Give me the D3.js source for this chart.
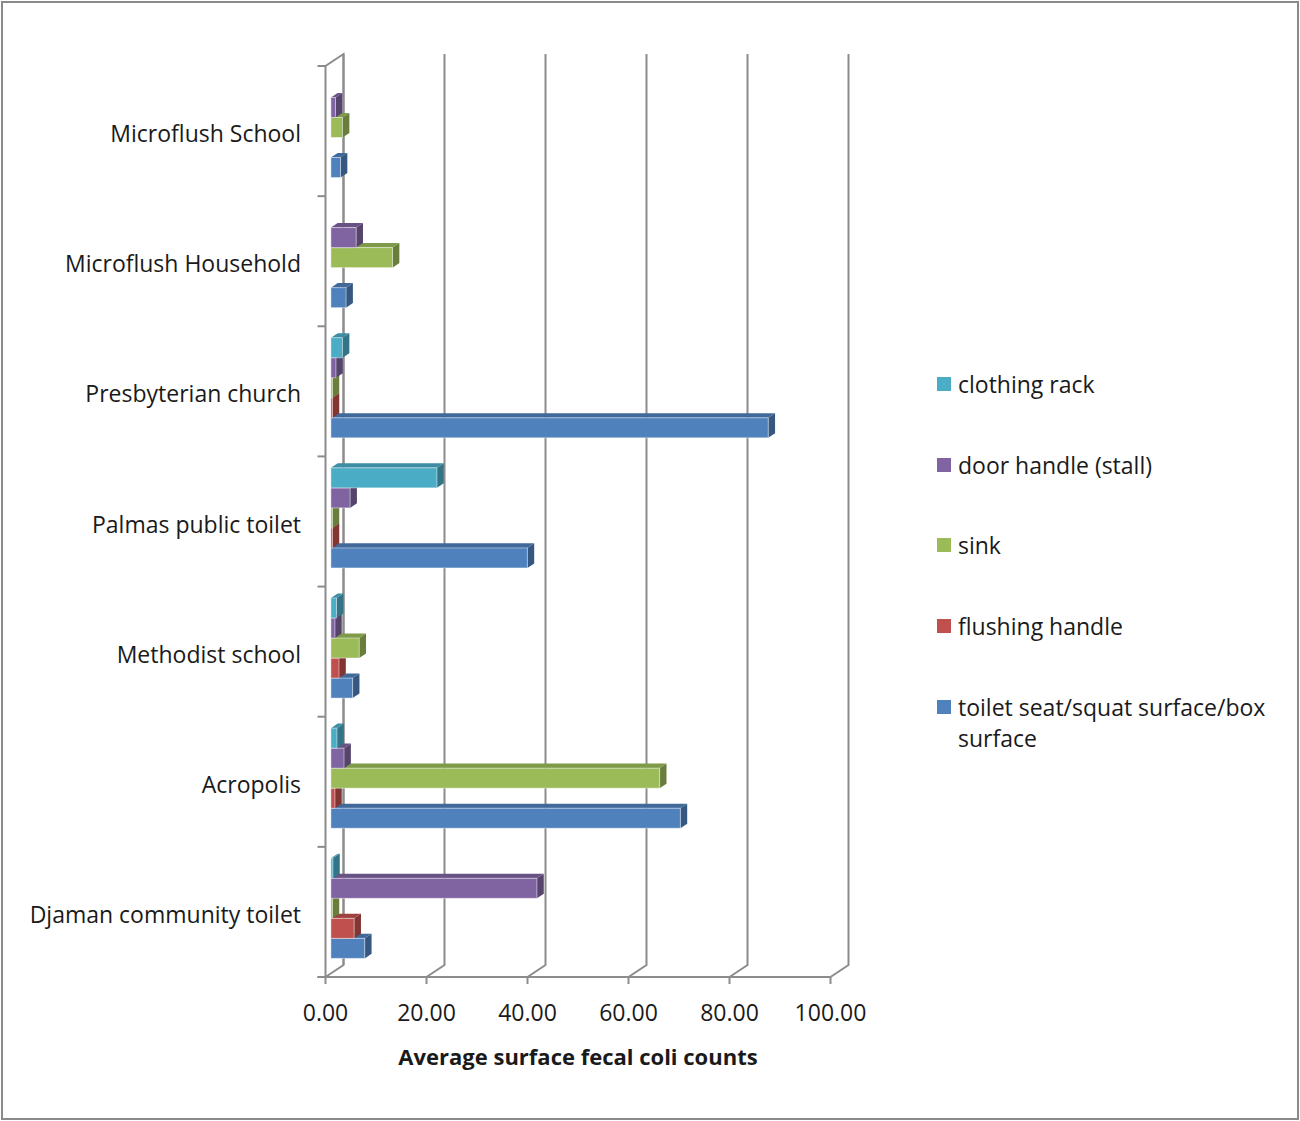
<!DOCTYPE html>
<html>
<head>
<meta charset="utf-8">
<script src="https://cdn.jsdelivr.net/npm/d3@7"></script>
<style>
  html, body { margin: 0; padding: 0; background: #fff; }
  svg text { font-family: "Open Sans", Lato, sans-serif; fill: #1a1a1a; }
</style>
</head>
<body>
<svg id="chart" width="1300" height="1121"></svg>
<script>
// ---------- data ----------
const categories = ["Microflush School", "Microflush Household", "Presbyterian church",
  "Palmas public toilet", "Methodist school", "Acropolis", "Djaman community toilet"];
const seriesNames = ["clothing rack", "door handle (stall)", "sink", "flushing handle",
  "toilet seat/squat surface/box surface"];
const clothingRack   = [0,   0,    2.3,  21.0, 1.1, 1.2,  0.4];
const doorHandle     = [0.9, 5.0,  1.0,  3.8,  0.8, 2.6,  40.8];
const sink           = [2.3, 12.2, 0.3,  0.3,  5.6, 65.1, 0.3];
const flushingHandle = [0,   0,    0.3,  0.3,  1.6, 0.8,  4.6];
const toiletSeat     = [1.9, 3.0,  86.6, 38.9, 4.3, 69.2, 6.7];
const seriesValues = [clothingRack, doorHandle, sink, flushingHandle, toiletSeat];
const seriesColors = ["#4bacc6", "#8064a2", "#9bbb59", "#c0504d", "#4f81bd"];
const xTicks = [0, 20, 40, 60, 80, 100];
const xTitle = "Average surface fecal coli counts";

// ---------- layout ----------
const svg = d3.select("#chart");
const FONT = 23;
const DX = 18, DY = 12;            // depth projection (back wall offset)
const dFront = 0.30, dBack = 0.68; // bar depth range

const x = d3.scaleLinear().domain([0, 100]).range([325.5, 830.5]);
const y = d3.scaleBand().domain(categories).range([66, 977]).padding(0);
const ys = d3.scaleBand().domain(seriesNames).range([0, y.bandwidth()])
  .paddingInner(0).paddingOuter(0.75);

const gridColor = "#8c8c8c";

// outer border
svg.append("rect").attr("x", 2).attr("y", 2).attr("width", 1296).attr("height", 1117)
  .attr("fill", "none").attr("stroke", "#8a8a8a").attr("stroke-width", 2);

const g = svg.append("g");
const top0 = y.range()[0], bot0 = y.range()[1];

// back wall gridlines + floor diagonals
xTicks.forEach(t => {
  const xf = x(t), xb = x(t) + DX;
  g.append("path")
    .attr("d", `M${xb},${top0 - DY} L${xb},${bot0 - DY} L${xf},${bot0}`)
    .attr("fill", "none").attr("stroke", gridColor).attr("stroke-width", 2);
});
// left wall
g.append("path")
  .attr("d", `M${x(0)},${bot0} L${x(0)},${top0} L${x(0) + DX},${top0 - DY} L${x(0) + DX},${bot0 - DY}`)
  .attr("fill", "none").attr("stroke", gridColor).attr("stroke-width", 2);
// floor front edge
g.append("line").attr("x1", x(0) - 8).attr("x2", x(100)).attr("y1", bot0).attr("y2", bot0)
  .attr("stroke", gridColor).attr("stroke-width", 2);
// x ticks
xTicks.forEach(t => {
  g.append("line").attr("x1", x(t)).attr("x2", x(t)).attr("y1", bot0).attr("y2", bot0 + 7)
    .attr("stroke", gridColor).attr("stroke-width", 2);
});
// y ticks (band boundaries)
const yBounds = categories.map(c => y(c)).concat([bot0]);
yBounds.forEach(v => {
  g.append("line").attr("x1", x(0) - 8).attr("x2", x(0)).attr("y1", v).attr("y2", v)
    .attr("stroke", gridColor).attr("stroke-width", 2);
});

// ---------- bars ----------
const bx0 = dFront * DX, by0 = dFront * DY;
const ddx = (dBack - dFront) * DX, ddy = (dBack - dFront) * DY;
const barsG = svg.append("g");
categories.forEach((cat, ci) => {
  // draw bottom series first so upper bars cover lower top faces
  for (let si = seriesNames.length - 1; si >= 0; si--) {
    const v = seriesValues[si][ci];
    if (!v) continue;
    const col = d3.color(seriesColors[si]);
    const x0 = x(0) + bx0, x1 = x(v) + bx0;
    const yt = y(cat) + ys(seriesNames[si]) - by0;
    const yb = yt + ys.bandwidth();
    const bar = barsG.append("g");
    bar.append("path")
      .attr("d", `M${x1},${yt} L${x1 + ddx},${yt - ddy} L${x1 + ddx},${yb - ddy} L${x1},${yb} Z`)
      .attr("fill", col.darker(1.1).formatHex());
    bar.append("path")
      .attr("d", `M${x0},${yt} L${x1},${yt} L${x1 + ddx},${yt - ddy} L${x0 + ddx},${yt - ddy} Z`)
      .attr("fill", col.darker(0.55).formatHex());
    bar.append("rect")
      .attr("x", x0).attr("y", yt).attr("width", x1 - x0).attr("height", yb - yt)
      .attr("fill", col.formatHex())
      .attr("stroke", "rgba(255,255,255,0.45)").attr("stroke-width", 1);
  }
});

// ---------- labels ----------
categories.forEach(cat => {
  svg.append("text")
    .attr("x", 301).attr("y", y(cat) + y.bandwidth() / 2 + 2)
    .attr("text-anchor", "end").attr("dominant-baseline", "central")
    .attr("font-size", FONT).text(cat);
});
xTicks.forEach(t => {
  svg.append("text")
    .attr("x", x(t)).attr("y", 1012)
    .attr("text-anchor", "middle").attr("dominant-baseline", "central")
    .attr("font-size", FONT).text(d3.format(".2f")(t));
});
svg.append("text")
  .attr("x", 578).attr("y", 1056)
  .attr("text-anchor", "middle").attr("dominant-baseline", "central")
  .attr("font-size", 22).attr("font-weight", "bold").text(xTitle);

// ---------- legend ----------
const legendY = [384, 465, 545, 626, 707];
const leg = svg.append("g");
seriesNames.forEach((name, i) => {
  leg.append("rect").attr("x", 937).attr("y", legendY[i] - 7)
    .attr("width", 14).attr("height", 14).attr("fill", seriesColors[i]);
  const t = leg.append("text").attr("x", 958).attr("y", legendY[i])
    .attr("dominant-baseline", "central").attr("font-size", FONT);
  if (name === "toilet seat/squat surface/box surface") {
    t.append("tspan").attr("x", 958).text("toilet seat/squat surface/box");
    t.append("tspan").attr("x", 958).attr("dy", 31).text("surface");
  } else {
    t.text(name);
  }
});
</script>
</body>
</html>
